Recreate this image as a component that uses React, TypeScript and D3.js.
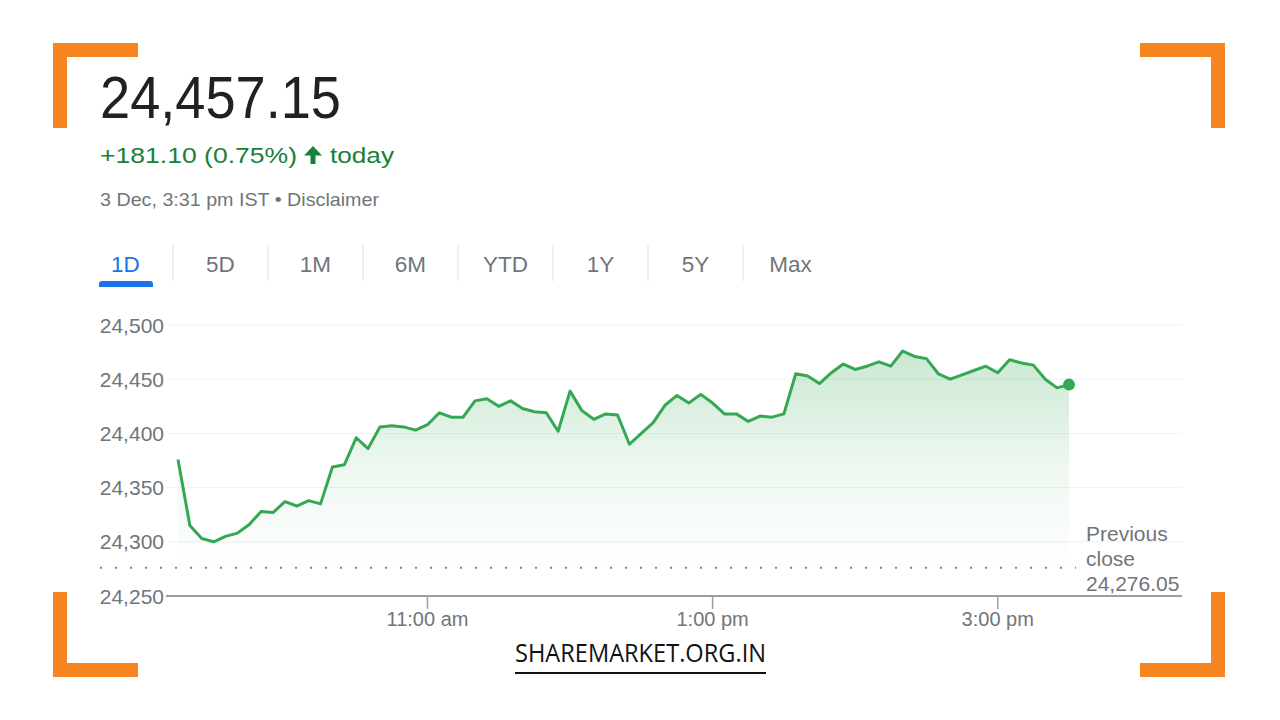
import React from 'react';
import * as d3 from 'd3';

// ---- data ----
const priceValues: number[] = [
  24376, 24315, 24303, 24300, 24305, 24308, 24316, 24328, 24327, 24337,
  24333, 24338, 24335, 24369, 24371, 24396, 24386, 24406, 24407, 24406,
  24403, 24408, 24419, 24415, 24415, 24430, 24432, 24425, 24430, 24423,
  24420, 24419, 24402, 24439, 24421, 24413, 24418, 24417, 24390, 24400,
  24410, 24426, 24435, 24428, 24436, 24428, 24418, 24418, 24411, 24416,
  24415, 24418, 24455, 24453, 24446, 24456, 24464, 24459, 24462, 24466,
  24462, 24476, 24471, 24469, 24455, 24450, 24454, 24458, 24462, 24456,
  24468, 24465, 24463, 24450, 24442, 24445,
];
const sessionDate = '2024-12-03';
const sessionStart = '09:15';
const sessionEnd = '15:30';
const intervalMinutes = 5;
const previousClose = 24276.05;
const yTickValues = [24250, 24300, 24350, 24400, 24450, 24500];
const xTickTimes = ['11:00', '13:00', '15:00'];
const xTickLabels = ['11:00 am', '1:00 pm', '3:00 pm'];
const tabLabels = ['1D', '5D', '1M', '6M', 'YTD', '1Y', '5Y', 'Max'];
const headlinePrice = '24,457.15';
const changeText = '+181.10 (0.75%)';
const dateText = '3 Dec, 3:31 pm IST • Disclaimer';

const FONT = '"Liberation Sans", Arial, Helvetica, sans-serif';
const GRAY = '#70757a';
const GREEN_LINE = '#34a853';
const ORANGE = '#f7841f';

export default function App() {
  const parse = d3.timeParse('%Y-%m-%d %H:%M');
  const t0 = parse(`${sessionDate} ${sessionStart}`) as Date;
  const t1 = parse(`${sessionDate} ${sessionEnd}`) as Date;
  const points = priceValues.map((v, i) => ({
    t: d3.timeMinute.offset(t0, i * intervalMinutes),
    v,
  }));

  const x = d3.scaleTime().domain([t0, t1]).range([178, 1069]);
  const y = d3.scaleLinear().domain([24250, 24500]).range([596, 325]);
  const gridLeft = 166;
  const gridRight = 1182;

  const line = d3
    .line<{ t: Date; v: number }>()
    .x((d) => x(d.t))
    .y((d) => y(d.v));
  const area = d3
    .area<{ t: Date; v: number }>()
    .x((d) => x(d.t))
    .y0(y(previousClose))
    .y1((d) => y(d.v));

  const last = points[points.length - 1];

  const tabs = d3.scaleBand<string>().domain(tabLabels).range([78, 838]);

  const bracket = (cx: number, cy: number, dx: number, dy: number, key: string) => {
    // corner at (cx,cy); arms extend in dx, dy directions
    const L = 85;
    const T = 14;
    const hx = dx > 0 ? cx : cx - L;
    const hy = dy > 0 ? cy : cy - T;
    const vx = dx > 0 ? cx : cx - T;
    const vy = dy > 0 ? cy : cy - L;
    return (
      <g key={key} fill={ORANGE}>
        <rect x={hx} y={hy} width={L} height={T} />
        <rect x={vx} y={vy} width={T} height={L} />
      </g>
    );
  };

  return (
    <svg
      width={1280}
      height={720}
      style={{ position: 'absolute', left: 0, top: 0, background: '#fff' }}
      fontFamily={FONT}
    >
      <defs>
        <linearGradient id="areaGrad" x1="0" y1="0" x2="0" y2="1">
          <stop offset="0%" stopColor={GREEN_LINE} stopOpacity={0.26} />
          <stop offset="55%" stopColor={GREEN_LINE} stopOpacity={0.08} />
          <stop offset="100%" stopColor={GREEN_LINE} stopOpacity={0} />
        </linearGradient>
      </defs>
      <rect width={1280} height={720} fill="#fff" />

      {/* orange corner brackets */}
      {bracket(53, 43, 1, 1, 'tl')}
      {bracket(1225, 43, -1, 1, 'tr')}
      {bracket(53, 677, 1, -1, 'bl')}
      {bracket(1225, 677, -1, -1, 'br')}

      {/* header */}
      <text x={100} y={118} fontSize={60} fill="#202124" textLength={241} lengthAdjust="spacingAndGlyphs">
        {headlinePrice}
      </text>
      <text x={100} y={163} fontSize={22} fill="#188038" textLength={197} lengthAdjust="spacingAndGlyphs">
        {changeText}
      </text>
      <g fill="#188038">
        <path d="M304,155.5 L313,146 L322,155.5 Z" />
        <rect x={310.5} y={154} width={5} height={10} />
      </g>
      <text x={330} y={163} fontSize={22} fill="#188038" textLength={64} lengthAdjust="spacingAndGlyphs">
        today
      </text>
      <text x={100} y={205.5} fontSize={18.5} fill={GRAY} textLength={279} lengthAdjust="spacingAndGlyphs">
        {dateText}
      </text>

      {/* tabs */}
      {tabLabels.map((t, i) => {
        const cx = (tabs(t) as number) + tabs.bandwidth() / 2;
        return (
          <text
            key={t}
            x={cx}
            y={272}
            fontSize={22.5}
            textAnchor="middle"
            fill={i === 0 ? '#1a73e8' : GRAY}
          >
            {t}
          </text>
        );
      })}
      {tabLabels.slice(1).map((t) => (
        <line
          key={'sep' + t}
          x1={tabs(t) as number}
          x2={tabs(t) as number}
          y1={245}
          y2={281}
          stroke="#e3e5e8"
          strokeWidth={1.2}
        />
      ))}
      <path d="M99,287 L99,284 Q99,281 102,281 L150,281 Q153,281 153,284 L153,287 Z" fill="#1a73e8" />

      {/* grid */}
      {yTickValues.slice(1).map((v) => (
        <line key={'g' + v} x1={gridLeft} x2={gridRight} y1={y(v)} y2={y(v)} stroke="#f1f1f1" strokeWidth={1} />
      ))}
      {yTickValues.map((v) => (
        <text key={'yl' + v} x={164} y={y(v) + 7.5} fontSize={21} fill={GRAY} textAnchor="end">
          {d3.format(',')(v)}
        </text>
      ))}

      {/* area and line */}
      <path d={area(points) as string} fill="url(#areaGrad)" />
      <line
        x1={100}
        x2={1076}
        y1={y(previousClose)}
        y2={y(previousClose)}
        stroke="#80868b"
        strokeWidth={2}
        strokeDasharray="2 13"
      />
      <path d={line(points) as string} fill="none" stroke={GREEN_LINE} strokeWidth={3} strokeLinejoin="round" />
      <circle cx={x(last.t)} cy={y(last.v)} r={6} fill={GREEN_LINE} />

      {/* baseline + x axis */}
      <line x1={gridLeft} x2={gridRight} y1={y(24250)} y2={y(24250)} stroke="#9e9e9e" strokeWidth={2} />
      {xTickTimes.map((tt, i) => {
        const px = x(parse(`${sessionDate} ${tt}`) as Date);
        return (
          <g key={tt}>
            <line x1={px} x2={px} y1={597} y2={609} stroke="#9e9e9e" strokeWidth={1.5} />
            <text x={px} y={626} fontSize={20} fill={GRAY} textAnchor="middle">
              {xTickLabels[i]}
            </text>
          </g>
        );
      })}

      {/* previous close label */}
      <g fontSize={21} fill={GRAY}>
        <text x={1086} y={541}>Previous</text>
        <text x={1086} y={566}>close</text>
        <text x={1086} y={591}>{d3.format(',.2f')(previousClose)}</text>
      </g>

      {/* footer */}
      <text
        x={515}
        y={662}
        fontSize={25}
        fill="#111"
        fontFamily='"Open Sans", "Noto Sans", sans-serif'
        textLength={251}
        lengthAdjust="spacingAndGlyphs"
      >
        SHAREMARKET.ORG.IN
      </text>
      <line x1={515} x2={766} y1={673} y2={673} stroke="#111" strokeWidth={2} />
    </svg>
  );
}
